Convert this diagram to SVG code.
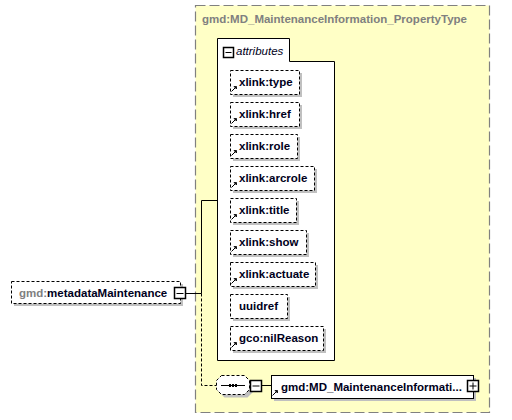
<svg xmlns="http://www.w3.org/2000/svg" width="512" height="420" viewBox="0 0 512 420">
<defs>
<style>
.t{font-family:"Liberation Sans",Arial,sans-serif;font-size:11.5px;font-weight:bold;fill:#000020}
.g{fill:#808080}
.att{fill:#fff;stroke:#000;stroke-width:1;stroke-dasharray:3,2}
.sh{fill:#c0c0c0}
.ln{stroke:#000;stroke-width:1;fill:none}
.box{fill:#fff;stroke:#000;stroke-width:1}
</style>
<g id="ref">
<path d="M0.5,-4.5 L-3.5,-0.5" stroke="#000" stroke-width="1"/>
<path d="M-1,-5.5 L1.5,-5.5 L1.5,-3 Z" fill="#000" stroke="#000" stroke-width="0.8"/>
</g>
<path id="seq" d="M221.5,375.5 H244.5 L249.5,380.5 V389.5 L244.5,394.5 H221.5 L216.5,389.5 V380.5 Z"/>
</defs>
<rect width="512" height="420" fill="#fff"/>
<g id="propertyType">
<rect x="195.5" y="5.5" width="294" height="407" fill="#ffffc6" stroke="#808080" stroke-width="1.2" stroke-dasharray="10,4"/>
<text class="t g" x="202" y="23">gmd:MD_MaintenanceInformation_PropertyType</text>
</g>
<g id="attributes">
<path d="M217.5,38.5 H289.5 V61.5 H334.5 V360.5 H217.5 Z" fill="#fff" stroke="#000"/>
<rect x="223.5" y="47.5" width="10" height="10" fill="#fff" stroke="#000" stroke-width="1.5"/>
<line x1="225.5" y1="52.5" x2="231.5" y2="52.5" stroke="#000"/>
<text x="236" y="55" style="font-family:'Liberation Sans',Arial,sans-serif;font-size:11.5px;font-style:italic" fill="#000020">attributes</text>
</g>
<g id="a_type"><rect class="sh" x="233" y="73" width="69" height="24"/><rect class="att" x="230.5" y="70.5" width="69" height="24"/><text class="t" x="239" y="86">xlink:type</text><use href="#ref" x="235" y="92"/></g>
<g id="a_href"><rect class="sh" x="233" y="105" width="69" height="24"/><rect class="att" x="230.5" y="102.5" width="69" height="24"/><text class="t" x="239" y="118">xlink:href</text><use href="#ref" x="235" y="124"/></g>
<g id="a_role"><rect class="sh" x="233" y="137" width="67" height="24"/><rect class="att" x="230.5" y="134.5" width="67" height="24"/><text class="t" x="239" y="150">xlink:role</text><use href="#ref" x="235" y="156"/></g>
<g id="a_arcrole"><rect class="sh" x="233" y="169" width="84" height="24"/><rect class="att" x="230.5" y="166.5" width="84" height="24"/><text class="t" x="239" y="182">xlink:arcrole</text><use href="#ref" x="235" y="188"/></g>
<g id="a_title"><rect class="sh" x="233" y="201" width="66" height="24"/><rect class="att" x="230.5" y="198.5" width="66" height="24"/><text class="t" x="239" y="214">xlink:title</text><use href="#ref" x="235" y="220"/></g>
<g id="a_show"><rect class="sh" x="233" y="233" width="76" height="24"/><rect class="att" x="230.5" y="230.5" width="76" height="24"/><text class="t" x="239" y="246">xlink:show</text><use href="#ref" x="235" y="252"/></g>
<g id="a_actuate"><rect class="sh" x="233" y="265" width="85" height="24"/><rect class="att" x="230.5" y="262.5" width="85" height="24"/><text class="t" x="239" y="278">xlink:actuate</text><use href="#ref" x="235" y="284"/></g>
<g id="a_uuidref"><rect class="sh" x="233" y="297" width="57" height="24"/><rect class="att" x="230.5" y="294.5" width="57" height="24"/><text class="t" x="239" y="310">uuidref</text></g>
<g id="a_nilReason"><rect class="sh" x="233" y="329" width="93" height="24"/><rect class="att" x="230.5" y="326.5" width="93" height="24"/><text class="t" x="239" y="342">gco:nilReason</text><use href="#ref" x="235" y="348"/></g>
<g id="connectors">
<path class="ln" d="M186,293.5 H201.5 V200.5 H217"/>
<path class="ln" d="M201.5,293.5 V385.5 H216" stroke-dasharray="3,2"/>
<path class="ln" d="M262,385.5 H271"/>
</g>
<g id="metadataMaintenance">
<rect class="sh" x="14" y="284" width="169" height="22"/>
<rect class="att" x="11.5" y="281.5" width="169" height="22"/>
<text class="t" x="19" y="297"><tspan class="g">gmd:</tspan>metadataMaintenance</text>
<rect x="174.5" y="287.5" width="11" height="11" fill="#fff" stroke="#000" stroke-width="1.5"/>
<line x1="176.5" y1="293.5" x2="183.5" y2="293.5" stroke="#000"/>
</g>
<g id="sequence">
<use href="#seq" class="sh" x="3" y="3"/>
<use href="#seq" fill="#fff" stroke="#000" stroke-dasharray="3,2"/>
<line x1="221" y1="385.5" x2="245" y2="385.5" stroke="#000"/>
<rect x="229" y="384" width="2" height="3" fill="#000"/>
<rect x="232" y="384" width="2" height="3" fill="#000"/>
<rect x="235" y="384" width="2" height="3" fill="#000"/>
<rect x="250.5" y="380.5" width="11" height="11" fill="#fff" stroke="#000" stroke-width="1.5"/>
<line x1="252.5" y1="386" x2="259.5" y2="386" stroke="#000"/>
</g>
<g id="MD_MaintenanceInformation">
<rect class="sh" x="274" y="378" width="202" height="23"/>
<rect class="box" x="271.5" y="375.5" width="202" height="23"/>
<text class="t" x="281" y="391">gmd:MD_MaintenanceInformati...</text>
<use href="#ref" x="276" y="396"/>
<rect x="467.5" y="380.5" width="11" height="11" fill="#fff" stroke="#000" stroke-width="1.5"/>
<line x1="469.5" y1="386" x2="476.5" y2="386" stroke="#000"/>
<line x1="473" y1="382.5" x2="473" y2="389.5" stroke="#000"/>
</g>
</svg>
